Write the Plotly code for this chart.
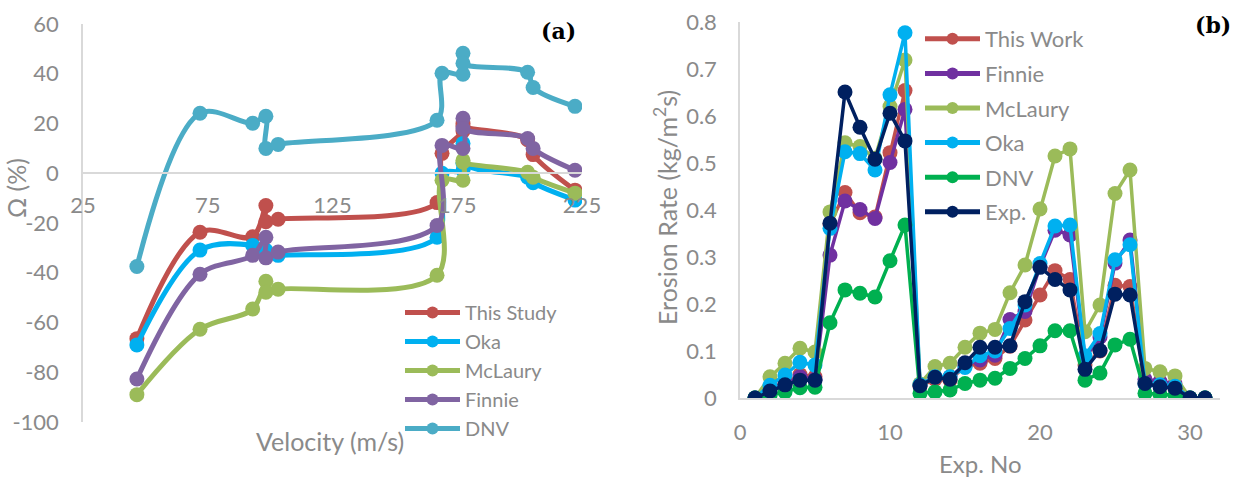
import plotly.graph_objects as go

W, H = 1237, 479

# ---------------- Panel (a) data ----------------
velocity = [46.6, 71.9, 93.0, 98.3, 98.3, 103.2, 166.9, 168.9, 177.3, 177.3, 177.3, 203.2, 205.4, 222.2]
omega_this_study = [-66.5, -23.7, -25.5, -13.0, -19.5, -18.5, -11.8, 8.0, 17.0, 20.0, 19.0, 13.5, 7.5, -6.8]
omega_oka = [-69.0, -30.9, -29.0, -31.0, -33.5, -33.0, -25.7, 0.0, 1.2, 12.0, 4.0, -1.6, -3.8, -10.8]
omega_mclaury = [-89.0, -62.7, -54.6, -43.4, -47.8, -46.6, -41.0, -2.8, -2.8, 5.2, 4.4, 0.4, -1.6, -8.0]
omega_finnie = [-82.7, -40.6, -33.0, -25.7, -34.0, -31.7, -21.0, 11.2, 10.0, 22.1, 18.0, 14.0, 10.0, 1.2]
omega_dnv = [-37.5, 24.1, 20.1, 22.9, 10.0, 11.6, 21.3, 40.2, 39.8, 48.2, 44.2, 40.6, 34.5, 26.9]

a_xticks = [25, 75, 125, 175, 225]
a_yticks = [-100, -80, -60, -40, -20, 0, 20, 40, 60]
a_yticklabels = ["-100", "-80", "-60", "-40", "-20", "0", "20", "40", "60"]

# ---------------- Panel (b) data ----------------
exp_no = list(range(1, 32))
er_this_work = [0, 0.02, 0.03, 0.05, 0.045, 0.37, 0.437, 0.394, 0.385, 0.522, 0.654, 0.025, 0.04, 0.038,
                0.068, 0.074, 0.084, 0.11, 0.166, 0.219, 0.271, 0.252, 0.07, 0.1, 0.24, 0.237, 0.03, 0.028,
                0.02, 0, 0]
er_finnie = [0, 0.02, 0.03, 0.045, 0.04, 0.304, 0.419, 0.401, 0.382, 0.501, 0.614, 0.028, 0.045, 0.045,
             0.07, 0.081, 0.091, 0.167, 0.184, 0.28, 0.357, 0.347, 0.085, 0.13, 0.287, 0.336, 0.04, 0.035,
             0.03, 0, 0]
er_mclaury = [0, 0.045, 0.074, 0.106, 0.098, 0.396, 0.543, 0.535, 0.51, 0.62, 0.719, 0.03, 0.067, 0.074,
              0.108, 0.138, 0.146, 0.224, 0.283, 0.402, 0.515, 0.53, 0.141, 0.198, 0.435, 0.485, 0.063,
              0.056, 0.047, 0, 0]
er_oka = [0, 0.027, 0.049, 0.076, 0.07, 0.361, 0.524, 0.52, 0.485, 0.645, 0.777, 0.028, 0.045, 0.045,
          0.065, 0.09, 0.1, 0.148, 0.198, 0.286, 0.366, 0.368, 0.09, 0.137, 0.294, 0.326, 0.03, 0.028,
          0.025, 0, 0]
er_dnv = [0, 0.006, 0.013, 0.022, 0.023, 0.16, 0.23, 0.223, 0.215, 0.292, 0.368, 0.01, 0.013, 0.017,
          0.031, 0.038, 0.042, 0.063, 0.084, 0.111, 0.143, 0.143, 0.038, 0.053, 0.113, 0.125, 0.01, 0.008,
          0.006, 0, 0]
er_exp = [0, 0.015, 0.028, 0.038, 0.038, 0.372, 0.651, 0.576, 0.508, 0.606, 0.547, 0.026, 0.044, 0.04,
          0.075, 0.108, 0.108, 0.111, 0.205, 0.278, 0.252, 0.23, 0.061, 0.101, 0.221, 0.219, 0.031, 0.024,
          0.021, 0, 0]

b_xticks = [0, 10, 20, 30]
b_yticks = [0, 0.1, 0.2, 0.3, 0.4, 0.5, 0.6, 0.7, 0.8]

FONT = "Lato"
GRAY = "#8A8A8A"
AXIS = "#D9D9D9"

fig = go.Figure()

a_series = [
    ("This Study", omega_this_study, "#C0504D"),
    ("Oka", omega_oka, "#00B0F0"),
    ("McLaury", omega_mclaury, "#9BBB59"),
    ("Finnie", omega_finnie, "#8064A2"),
    ("DNV", omega_dnv, "#4BACC6"),
]
for i, (name, ys, col) in enumerate(a_series):
    fig.add_trace(go.Scatter(
        x=velocity, y=ys, name=name, mode="lines+markers",
        line=dict(color=col, width=5, shape="spline", smoothing=1.0),
        marker=dict(color=col, size=15),
        xaxis="x", yaxis="y", legend="legend", legendgroup="a%d" % i,
    ))

b_series = [
    ("This Work", er_this_work, "#C0504D"),
    ("Finnie", er_finnie, "#7030A0"),
    ("McLaury", er_mclaury, "#9BBB59"),
    ("Oka", er_oka, "#00B0F0"),
    ("DNV", er_dnv, "#00B050"),
    ("Exp.", er_exp, "#002060"),
]
for i, (name, ys, col) in enumerate(b_series):
    fig.add_trace(go.Scatter(
        x=exp_no, y=ys, name=name, mode="lines+markers",
        line=dict(color=col, width=3.5),
        marker=dict(color=col, size=15),
        xaxis="x2", yaxis="y2", legend="legend2", legendgroup="b%d" % i,
    ))

def fx(p):
    return p / W

def fy(p):
    return 1 - p / H

tickfont = dict(family=FONT, size=22, color=GRAY)

fig.update_layout(
    width=W, height=H, margin=dict(l=0, r=0, t=0, b=0, autoexpand=False),
    paper_bgcolor="white", plot_bgcolor="white",
    font=dict(family=FONT, color=GRAY),
    xaxis=dict(domain=[fx(83), fx(582)], range=[25, 225], anchor="free", position=fy(173),
               tickvals=a_xticks, showgrid=False, zeroline=False, showline=True,
               linecolor=AXIS, linewidth=1.5, ticks="", tickfont=tickfont, ticklabelstandoff=13),
    yaxis=dict(domain=[fy(422), fy(24)], range=[-100, 60], anchor="x",
               tickvals=a_yticks, ticktext=a_yticklabels, showgrid=False, zeroline=False,
               showline=True, linecolor=AXIS, linewidth=1.5, ticks="", tickfont=tickfont,
               ticklabelstandoff=18),
    xaxis2=dict(domain=[fx(740), fx(1220)], range=[0, 32], anchor="y2",
                tickvals=b_xticks, showgrid=False, zeroline=False, showline=True,
                linecolor=AXIS, linewidth=1.5, ticks="", tickfont=tickfont, ticklabelstandoff=14),
    yaxis2=dict(domain=[fy(398), fy(22)], range=[0, 0.8], anchor="x2",
                tickvals=b_yticks, showgrid=False, zeroline=False, showline=True,
                linecolor=AXIS, linewidth=1.5, ticks="", tickfont=tickfont, ticklabelstandoff=17),
    legend=dict(x=fx(400), y=fy(293), xanchor="left", yanchor="top",
                font=dict(family=FONT, size=20, color=GRAY), bgcolor="rgba(0,0,0,0)",
                itemwidth=55, tracegroupgap=0, traceorder="grouped", itemsizing="constant"),
    legend2=dict(x=fx(920), y=fy(18), xanchor="left", yanchor="top",
                 font=dict(family=FONT, size=22, color=GRAY), bgcolor="rgba(0,0,0,0)",
                 itemwidth=55, tracegroupgap=3, traceorder="grouped", itemsizing="constant"),
    showlegend=True,
)

def label(text, x, y, size=25, family=FONT, color=GRAY, angle=0):
    return dict(text=text, x=fx(x), y=fy(y), xref="paper", yref="paper",
                xanchor="center", yanchor="middle", textangle=angle, showarrow=False,
                font=dict(family=family, size=size, color=color))

annotations = [
    label("Velocity (m/s)", 330, 441),
    label("Ω (%)", 16, 188, angle=-90),
    label("<b>(a)</b>", 558, 31, size=22, family="DejaVu Serif", color="black"),
    label("Erosion Rate (kg/m<sup>2</sup>s)", 665, 208, angle=-90),
    label("Exp. No", 980, 463, size=24),
    label("<b>(b)</b>", 1213, 25, size=22, family="DejaVu Serif", color="black"),
]
fig.update_layout(annotations=annotations)

fig.write_html("out.html")
